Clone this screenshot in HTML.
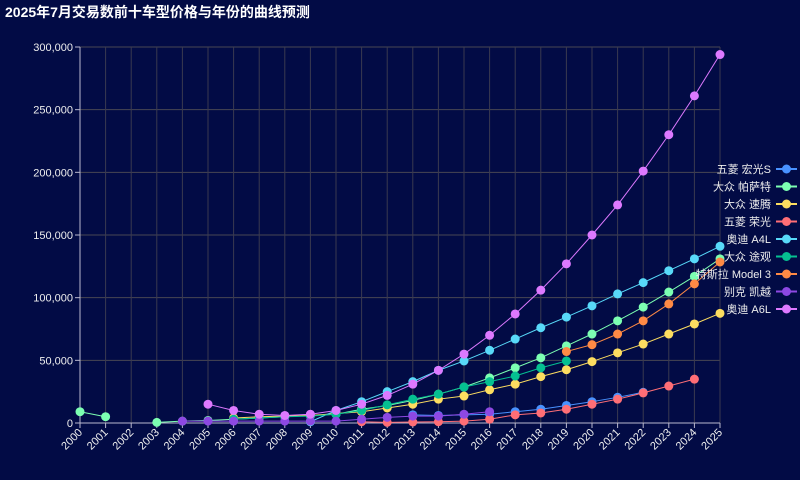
<!DOCTYPE html>
<html><head><meta charset="utf-8">
<style>
html,body{margin:0;padding:0;background:#020b45;}
#wrap{position:relative;width:800px;height:480px;background:#020b45;font-family:"Liberation Sans","Noto Sans CJK SC",sans-serif;}
#title{position:absolute;left:5px;top:2px;color:#fff;font-weight:bold;font-size:14px;line-height:20px;}
svg{position:absolute;left:0;top:0;}
</style></head>
<body>
<div id="wrap">
<div id="title">2025年7月交易数前十车型价格与年份的曲线预测</div>
<svg id="svg" width="800" height="480"></svg>
</div>
<script>
const categories = ["2000","2001","2002","2003","2004","2005","2006","2007","2008","2009","2010","2011","2012","2013","2014","2015","2016","2017","2018","2019","2020","2021","2022","2023","2024","2025"];
const yTicks = [0,50000,100000,150000,200000,250000,300000];
const seriesNames = ["五菱 宏光S","大众 帕萨特","大众 速腾","五菱 荣光","奥迪 A4L","大众 途观","特斯拉 Model 3","别克 凯越","奥迪 A6L"];
const seriesColors = ["#4992ff","#7cffb2","#fddd60","#ff6e76","#58d9f9","#05c091","#ff8a45","#8d48e3","#dd79ff"];
const hongguang = [null,null,null,null,null,null,null,null,null,null,null,null,null,6500,6000,6500,7000,9000,11000,14000,17000,20500,24500,null,null,null];
const passat = [9000,5000,null,500,1500,2000,3000,4000,5000,6000,7000,11000,14000,18000,23000,28700,36000,44000,52000,61500,71000,81500,92500,104500,117000,131000];
const sagitar = [null,null,null,null,null,null,4000,5000,5500,6000,7500,9000,12000,15000,19000,21500,26500,31000,37000,42500,49000,56000,63000,71000,79000,87500];
const rongguang = [null,null,null,null,null,null,null,null,null,null,null,1000,500,800,1000,1500,3000,6500,8000,11000,15000,19000,24000,29500,35000,null];
const a4l = [null,null,null,null,null,null,null,null,null,1000,10000,17000,25000,33000,42000,49500,58000,67000,76000,84500,93500,103000,112000,121500,131000,141000];
const tiguan = [null,null,null,null,null,null,3000,4000,5000,5500,7000,10000,14500,19000,23000,28700,33000,37500,44000,49500,null,null,null,null,null,null];
const model3 = [null,null,null,null,null,null,null,null,null,null,null,null,null,null,null,null,null,null,null,57000,62500,71000,81500,95000,111000,128500];
const excelle = [null,null,null,null,1500,1500,1500,1500,1500,1500,1500,3000,4500,5500,5500,7000,9000,null,null,null,null,null,null,null,null,null];
const a6l = [null,null,null,null,null,15000,10000,7000,6000,7000,10000,15000,22000,31000,42000,55000,70000,87000,106000,127000,150000,174000,201000,230000,261000,294000];
const allSeries = [hongguang,passat,sagitar,rongguang,a4l,tiguan,model3,excelle,a6l];

const NS="http://www.w3.org/2000/svg";
const svg=document.getElementById('svg');
const X0=80,X1=720,Y0=423,Y1=47,YMAX=300000;
function xs(i){return X0+(X1-X0)*i/(categories.length-1);}
function ys(v){return Y0-(Y0-Y1)*v/YMAX;}
function mk(tag,attrs,parent){const e=document.createElementNS(NS,tag);for(const k in attrs)e.setAttribute(k,attrs[k]);(parent||svg).appendChild(e);return e;}

const grid=mk('g',{});


yTicks.forEach(t=>{
  const y=ys(t);
  if(t>0){const l=mk('line',{x1:X0,x2:X1,y1:y,y2:y,stroke:'#484753','stroke-width':1},grid);
  
  }
  const tk=mk('line',{x1:X0-5,x2:X0,y1:y,y2:y,stroke:'#b9b8ce'},grid);
  
  
  const tx=mk('text',{x:X0-7,y:y+4,'text-anchor':'end',fill:'#eeeeee','font-size':11},grid);
  tx.textContent=t.toLocaleString('en-US');
  
  
});
categories.forEach((c,i)=>{
  const x=xs(i);
  if(i>0){const l=mk('line',{x1:x,x2:x,y1:Y1,y2:Y0,stroke:'#3a3a50','stroke-width':1},grid);
  
  }
  const tk=mk('line',{x1:x,x2:x,y1:Y0,y2:Y0+5,stroke:'#b9b8ce'},grid);
  
  
  const tx=mk('text',{x:x+3,y:Y0+10,'text-anchor':'end',fill:'#eeeeee','font-size':11,transform:`rotate(-45 ${x+3} ${Y0+10})`},grid);
  tx.textContent=c;
  
  
});
const ax=mk('line',{x1:X0,x2:X0,y1:Y1,y2:Y0,stroke:'#b9b8ce'});


const axx=mk('line',{x1:X0,x2:X1,y1:Y0,y2:Y0,stroke:'#b9b8ce'});



allSeries.forEach((data,si)=>{
  const g=mk('g',{});
  
  
  const col=seriesColors[si];
  for(let i=1;i<data.length;i++){
    if(data[i]!=null&&data[i-1]!=null){
      const l=mk('line',{x1:xs(i-1),y1:ys(data[i-1]),x2:xs(i),y2:ys(data[i]),stroke:col,'stroke-width':1},g);
      
      
    }
  }
  data.forEach((v,i)=>{
    if(v==null)return;
    const c=mk('circle',{cx:xs(i),cy:ys(v),r:4.5,fill:col},g);
    
    
  });
});

const lg=mk('g',{});


seriesNames.forEach((n,i)=>{
  const y=169+i*17.5;
  const e=mk('g',{},lg);
  
  
  const l=mk('line',{x1:776,x2:797,y1:y,y2:y,stroke:seriesColors[i],'stroke-width':2},e);
  
  
  const c=mk('circle',{cx:786.5,cy:y,r:4.5,fill:seriesColors[i]},e);
  
  
  const t=mk('text',{x:771,y:y+4,'text-anchor':'end',fill:'#eeeeee','font-size':11},e);
  t.textContent=n;
  
  
});
</script>
</body></html>
